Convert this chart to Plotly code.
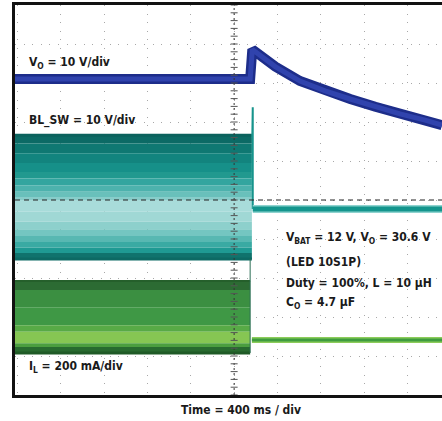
import numpy as np
import plotly.graph_objects as go

# ---------------- data (divisions on the scope screen) ----------------
X_MIN, X_MAX = -5.06, 4.80

# V_O trace (blue): flat level, then turn-off jump and decay
vo_t = [X_MIN, 0.37, 0.42, 0.95, 1.52, 2.10, 2.68, 3.26, 3.83, 4.41, 4.80]
vo_v = [3.10, 3.10, 3.86, 3.42, 3.05, 2.80, 2.59, 2.39, 2.21, 2.05, 1.92]

# BL_SW switching envelope (teal) while on
sw_on_t = [X_MIN, 0.41]
sw_band_edges = [1.66, 1.45, 1.20, 0.95, 0.72, 0.55, 0.38, 0.21, 0.08, 0.0,
                 -0.30, -0.55, -0.75, -0.92, -1.08, -1.22, -1.36, -1.51]
sw_band_colors = ["#0c6a65", "#0f7872", "#12847e", "#169089", "#21998f", "#33a59f",
                  "#4db2ad", "#69c0bb", "#88cdca", "#a8dcda", "#a0d8d5", "#8dd0cc",
                  "#74c6c1", "#58b8b2", "#3aaaa3", "#1f9a93", "#10736d"]
sw_spike_t = [0.42, 0.43, 0.43]
sw_spike_v = [1.60, 2.38, -0.23]
sw_off_t = [0.43, X_MAX]
sw_off_v = [-0.23, -0.23]

# I_L envelope (green) while on
il_on_t = [X_MIN, 0.37]
il_band_edges = [-2.08, -2.31, -2.75, -3.21, -3.38, -3.67, -3.77, -3.92]
il_band_colors = ["#2c6b33", "#3b8f41", "#3f9845", "#58aa46", "#86c653", "#4b9e3f", "#286a2f"]
il_edge_t = [0.37, 0.37]
il_edge_v = [-1.51, -3.92]
il_off_t = [0.41, X_MAX]
il_off_v = [-3.59, -3.59]

# labels
label_vo = "V<sub>O</sub> = 10 V/div"
label_sw = "BL_SW = 10 V/div"
label_il = "I<sub>L</sub> = 200 mA/div"
cond_lines = ["V<sub>BAT</sub> = 12 V, V<sub>O</sub> = 30.6 V",
              "(LED 10S1P)",
              "Duty = 100%, L = 10 µH",
              "C<sub>O</sub> = 4.7 µF"]
cond_y = [-0.97, -1.58, -2.12, -2.63]
x_title = "Time = 400 ms / div"

FONT = "DejaVu Sans Condensed, Liberation Sans Narrow, Arial Narrow, sans-serif"

fig = go.Figure()

# teal bands
for i, c in enumerate(sw_band_colors):
    top, bot = sw_band_edges[i], sw_band_edges[i + 1]
    fig.add_trace(go.Scatter(
        x=[sw_on_t[0], sw_on_t[1], sw_on_t[1], sw_on_t[0], sw_on_t[0]],
        y=[top, top, bot, bot, top], fill="toself", fillcolor=c,
        line=dict(width=0), mode="lines", hoverinfo="skip", showlegend=False))
fig.add_trace(go.Scatter(x=sw_on_t, y=[sw_band_edges[0]] * 2, mode="lines",
                         line=dict(color="#0b625d", width=3), showlegend=False))
fig.add_trace(go.Scatter(x=sw_on_t, y=[sw_band_edges[-1]] * 2, mode="lines",
                         line=dict(color="#0d6a64", width=3), showlegend=False))
fig.add_trace(go.Scatter(x=sw_spike_t, y=sw_spike_v, mode="lines",
                         line=dict(color="#17948c", width=2), showlegend=False))
fig.add_trace(go.Scatter(x=sw_off_t, y=sw_off_v, mode="lines",
                         line=dict(color="#8fd3cf", width=8), showlegend=False))
fig.add_trace(go.Scatter(x=sw_off_t, y=sw_off_v, mode="lines",
                         line=dict(color="#14958d", width=5), showlegend=False))

# green bands
for i, c in enumerate(il_band_colors):
    top, bot = il_band_edges[i], il_band_edges[i + 1]
    fig.add_trace(go.Scatter(
        x=[il_on_t[0], il_on_t[1], il_on_t[1], il_on_t[0], il_on_t[0]],
        y=[top, top, bot, bot, top], fill="toself", fillcolor=c,
        line=dict(width=0), mode="lines", hoverinfo="skip", showlegend=False))
fig.add_trace(go.Scatter(x=il_on_t, y=[il_band_edges[0]] * 2, mode="lines",
                         line=dict(color="#255f2b", width=2), showlegend=False))
fig.add_trace(go.Scatter(x=il_on_t, y=[il_band_edges[-1]] * 2, mode="lines",
                         line=dict(color="#1f5a26", width=3), showlegend=False))
fig.add_trace(go.Scatter(x=il_edge_t, y=il_edge_v, mode="lines",
                         line=dict(color="#2b6e55", width=1), showlegend=False))
fig.add_trace(go.Scatter(x=il_off_t, y=il_off_v, mode="lines",
                         line=dict(color="#8ccc5a", width=6), showlegend=False))
fig.add_trace(go.Scatter(x=il_off_t, y=il_off_v, mode="lines",
                         line=dict(color="#3f9b3f", width=3), showlegend=False))

# blue V_O
fig.add_trace(go.Scatter(x=vo_t, y=vo_v, mode="lines",
                         line=dict(color="#1d2d8a", width=10), showlegend=False))
fig.add_trace(go.Scatter(x=vo_t, y=vo_v, mode="lines",
                         line=dict(color="#3043ad", width=5), showlegend=False))

# centre graticule lines
fig.add_trace(go.Scatter(x=[X_MIN, X_MAX], y=[0, 0], mode="lines",
                         line=dict(color="#222222", width=1, dash="5px,4px"), showlegend=False))
fig.add_trace(go.Scatter(x=[0, 0], y=[-5, 5], mode="lines",
                         line=dict(color="#333333", width=1, dash="2px,3px"), showlegend=False))
minor_y = np.round(np.arange(-5, 5.001, 0.2), 2)
fig.add_trace(go.Scatter(x=np.zeros_like(minor_y), y=minor_y, mode="markers",
                         marker=dict(symbol="line-ew", size=5, line=dict(color="#555555", width=1)),
                         showlegend=False))

annots = []
for txt, yy in [(label_vo, 3.51), (label_sw, 2.03), (label_il, -4.28)]:
    annots.append(dict(x=-4.78, y=yy, xref="x", yref="y", text=txt, showarrow=False,
                       xanchor="left", yanchor="middle",
                       font=dict(family=FONT, size=12, color="#1a1a1a", weight="bold")))
for txt, yy in zip(cond_lines, cond_y):
    annots.append(dict(x=1.16, y=yy, xref="x", yref="y", text=txt, showarrow=False,
                       xanchor="left", yanchor="middle",
                       font=dict(family=FONT, size=12, color="#1a1a1a", weight="bold")))
annots.append(dict(x=0.529, y=-0.038, xref="paper", yref="paper", text=x_title,
                   showarrow=False, xanchor="center", yanchor="middle",
                   font=dict(family=FONT, size=12, color="#1a1a1a", weight="bold")))

grid = dict(showgrid=True, gridcolor="#a8a8a8", gridwidth=1, griddash="1px,7.6px",
            zeroline=False, showticklabels=False, ticks="", dtick=1)

fig.update_layout(
    width=442, height=421,
    margin=dict(l=15, r=0, t=5, b=26),
    paper_bgcolor="white", plot_bgcolor="white",
    xaxis=dict(range=[X_MIN, X_MAX], tick0=0, showline=True, linecolor="#111111",
               linewidth=3, mirror=True, **grid),
    yaxis=dict(range=[-5, 5], tick0=0, showline=True, linecolor="#111111",
               linewidth=3, mirror=False, **grid),
    annotations=annots,
    showlegend=False,
)

fig.write_html("out.html", config={"displayModeBar": False},
               post_script="document.body.style.margin='0';")
